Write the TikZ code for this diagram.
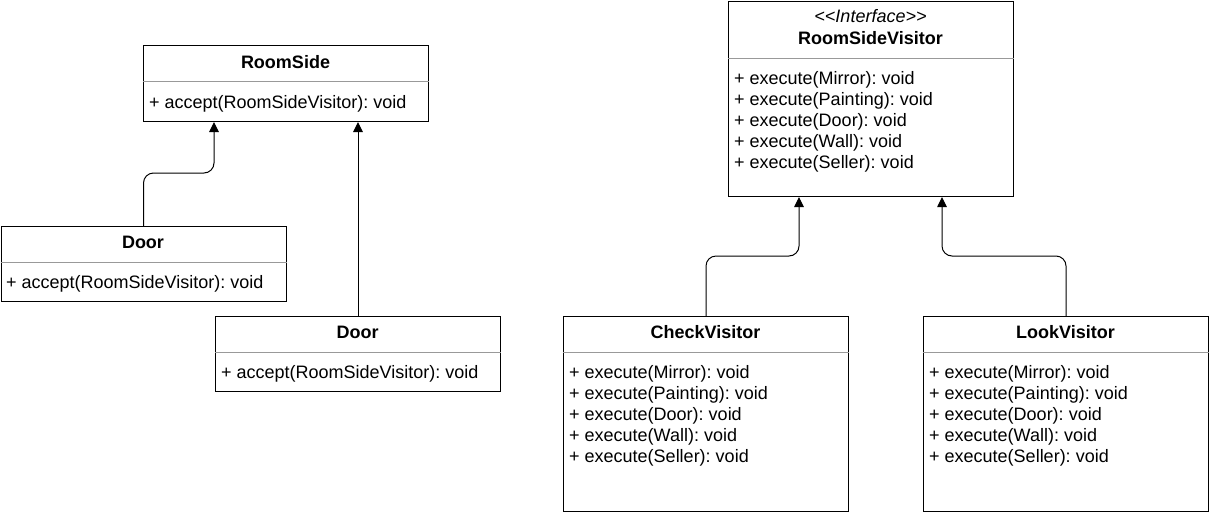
\documentclass[tikz,border=0pt]{standalone}
\usepackage{fontspec}
\setmainfont{Liberation Sans}
\usetikzlibrary{arrows.meta,calc}
\frenchspacing
\begin{document}
\begin{tikzpicture}[x=1pt,y=-1pt,
  box/.style={draw=black,line width=1pt,minimum width=285pt,inner sep=0pt,anchor=north west,fill=white},
  sepline/.style={draw=black!40,line width=1pt},
  ttl/.style={font=\fontsize{18}{21}\selectfont\bfseries,anchor=base,inner sep=0pt},
  stereo/.style={font=\fontsize{18}{21}\selectfont\itshape,anchor=base,inner sep=0pt},
  member/.style={font=\fontsize{18}{21}\selectfont,anchor=base west,inner sep=0pt},
  inh/.style={draw=black,line width=1pt,rounded corners=10pt,-{Triangle[length=10pt,width=9.5pt]}}]
\useasboundingbox (0,0) rectangle (1209,512);

% boxes
\node[box,minimum height=76pt] (roomside) at (143,45) {};
\node[box,minimum height=75pt] (door1) at (0.5,226) {};
\node[box,minimum height=75pt] (door2) at (215,316) {};
\node[box,minimum height=195.5pt] (rsv) at (728,0.5) {};
\node[box,minimum height=195pt] (check) at (563,316) {};
\node[box,minimum height=195pt] (look) at (923,316) {};

% separators
\draw[sepline] ($(roomside.north west)+(0,36)$) -- ($(roomside.north east)+(0,36)$);
\draw[sepline] ($(door1.north west)+(0,36)$) -- ($(door1.north east)+(0,36)$);
\draw[sepline] ($(door2.north west)+(0,36)$) -- ($(door2.north east)+(0,36)$);
\draw[sepline] ($(rsv.north west)+(0,57.5)$) -- ($(rsv.north east)+(0,57.5)$);
\draw[sepline] ($(check.north west)+(0,36)$) -- ($(check.north east)+(0,36)$);
\draw[sepline] ($(look.north west)+(0,36)$) -- ($(look.north east)+(0,36)$);

% texts
\node[ttl] (roomsideT) at (285.5,68.3) {RoomSide};
\node[member] (roomsideM) at (149,108.3) {+ accept(RoomSideVisitor): void};
\node[ttl] (door1T) at (143,248.3) {Door};
\node[member] (door1M) at (6,288.3) {+ accept(RoomSideVisitor): void};
\node[ttl] (door2T) at (357.5,338.3) {Door};
\node[member] (door2M) at (221,378.3) {+ accept(RoomSideVisitor): void};
\node[stereo] (rsvS) at (870.5,22.8) {{<}{<}Interface{>}{>}};
\node[ttl] (rsvT) at (870.5,44.5) {RoomSideVisitor};
\node[ttl] (checkT) at (705.5,338.3) {CheckVisitor};
\node[ttl] (lookT) at (1065.5,338.3) {LookVisitor};
\foreach \t [count=\i from 0] in {{+ execute(Mirror): void},{+ execute(Painting): void},{+ execute(Door): void},{+ execute(Wall): void},{+ execute(Seller): void}}{
  \node[member] (rsvM\i) at (734,84.3+21*\i) {\t};
  \node[member] (checkM\i) at (569,378.3+21*\i) {\t};
  \node[member] (lookM\i) at (929,378.3+21*\i) {\t};
}

% connectors
\draw[inh] (door1.north) -- ++(0,-53) -| ($(roomside.south west)+(71,0)$);
\draw[inh] (door2.north) -- (door2.north |- roomside.south);
\draw[inh] (check.north) -- ++(0,-60) -| ($(rsv.south west)+(71,0)$);
\draw[inh] (look.north) -- ++(0,-60) -| ($(rsv.south west)+(214,0)$);
\end{tikzpicture}
\end{document}
